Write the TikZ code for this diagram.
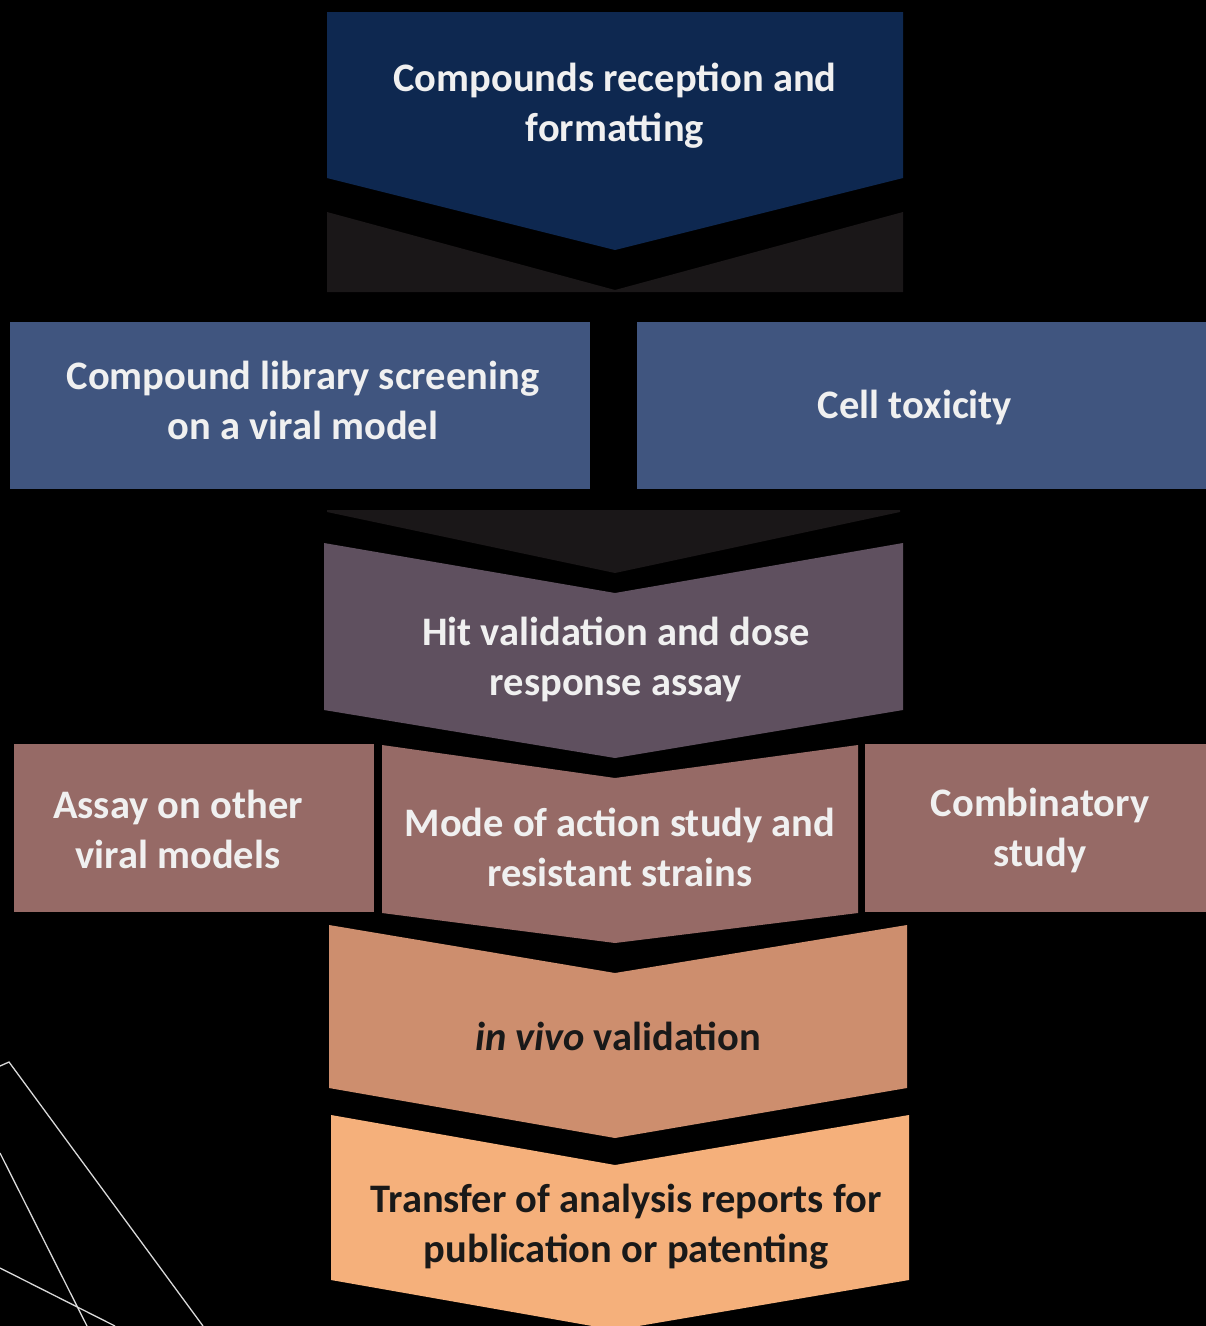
\documentclass[tikz,border=0pt]{standalone}
\usepackage{fontspec}
\setmainfont{Carlito}
\usetikzlibrary{positioning}

\definecolor{navy}{RGB}{14,40,80}
\definecolor{shadow}{RGB}{26,23,24}
\definecolor{slate}{RGB}{64,85,127}
\definecolor{plum}{RGB}{95,80,95}
\definecolor{mauve}{RGB}{150,106,102}
\definecolor{clay}{RGB}{205,142,110}
\definecolor{peach}{RGB}{245,176,123}

\tikzset{
  stage/.style={align=center, inner sep=0pt, text=white!94!black,
    font=\bfseries\fontsize{40.5}{50}\selectfont},
  darkstage/.style={stage, text=black!90},
  deco/.style={draw=white!85!black, line width=1.3pt}
}

\begin{document}
\begin{tikzpicture}[x=1pt,y=-1pt]
\useasboundingbox (0,0) rectangle (1206,1326);
\fill[black] (0,0) rectangle (1206,1326);
\clip (0,0) rectangle (1206,1326);

% decorative lines
\draw[deco] (0,1066) -- (9,1062) -- (203,1326);
\draw[deco] (0,1153) -- (87,1326);
\draw[deco] (0,1268) -- (115,1326);

% chevrons and boxes
\fill[navy] (327,12) -- (903,12) -- (903,178) -- (615,250) -- (327,178) -- cycle;
\fill[shadow] (327,212) -- (615,290) -- (903,212) -- (903,292) -- (327,292) -- cycle;

\fill[slate] (10,322) rectangle (590,489);
\fill[slate] (637,322) rectangle (1206,489);

\fill[shadow] (327,510) -- (900,510) -- (900,512) -- (615,573) -- (327,512) -- cycle;
\fill[plum] (324,543) -- (615,593) -- (903,543) -- (903,710) -- (615,758) -- (324,710) -- cycle;

\fill[mauve] (14,744) rectangle (374,912);
\fill[mauve] (382,745) -- (615,778) -- (858,745) -- (858,913) -- (615,943) -- (382,913) -- cycle;
\fill[mauve] (865,744) rectangle (1206,912);

\fill[clay] (329,925) -- (615,973) -- (907,925) -- (907,1088) -- (615,1138) -- (329,1088) -- cycle;
\fill[peach] (331,1115) -- (615,1165) -- (909,1115) -- (909,1280) -- (615,1330) -- (331,1280) -- cycle;

% labels
\node[stage] (reception) at (615,106) {Compounds reception and\\formatting};
\node[stage] (screening) at (303,400) {Compound library screening\\on a viral model};
\node[stage] (toxicity) at (915,407) {Cell toxicity};
\node[stage] (hit) at (616,659) {Hit validation and dose\\response assay};
\node[stage] (other) at (178,829) {Assay on other\\viral models};
\node[stage] (mode) at (620,847) {Mode of action study and\\resistant strains};
\node[stage] (combi) at (1040,830) {Combinatory\\study};
\node[darkstage] (invivo) at (618,1036) {\textit{in vivo} validation};
\node[darkstage] (transfer) at (626,1227) {Transfer of analysis reports for\\publication or patenting};

\end{tikzpicture}
\end{document}
